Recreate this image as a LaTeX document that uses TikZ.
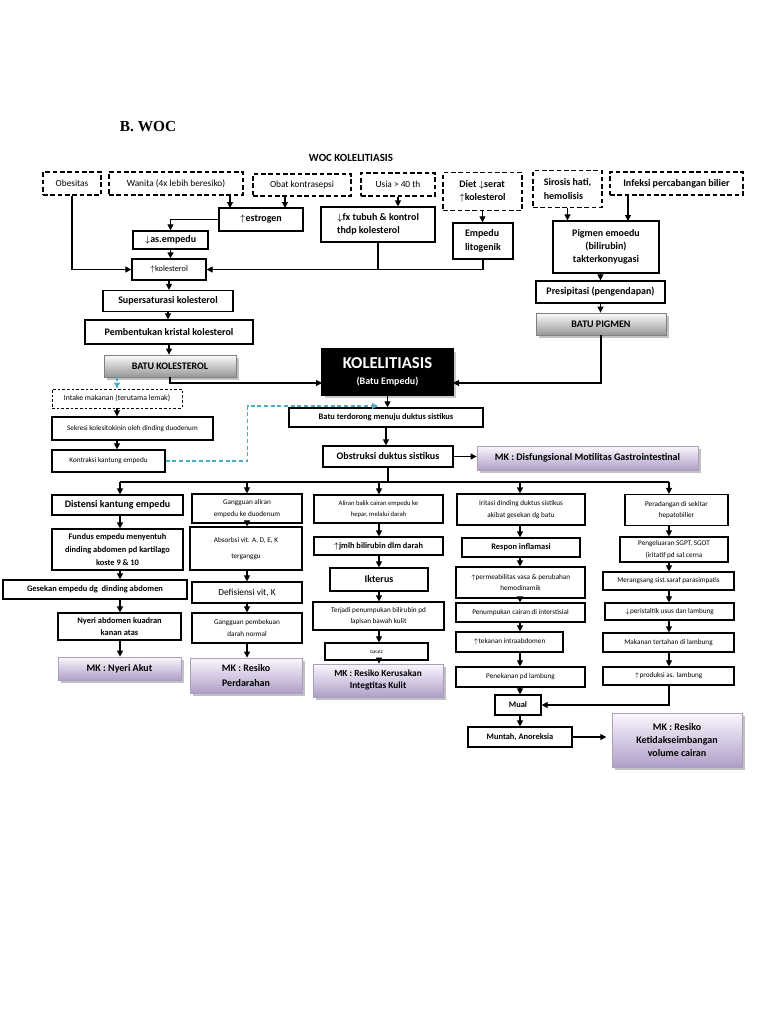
\documentclass[tikz,border=0pt]{standalone}
\usepackage{fontspec}
\setmainfont{Carlito}
\newfontfamily\judulfont{Liberation Serif}
\usetikzlibrary{arrows.meta,shadows}

\newdimen\px \px=0.75pt
\definecolor{mkTop}{RGB}{250,247,253}
\definecolor{mkBot}{RGB}{176,158,200}
\definecolor{mkLine}{RGB}{170,160,190}
\definecolor{batuTop}{RGB}{252,252,252}
\definecolor{batuBot}{RGB}{150,150,150}
\definecolor{biru}{RGB}{75,172,198}

\tikzset{
  sz/.style 2 args={minimum width=#1\px, minimum height=#2\px},
  box/.style={draw, line width=0.9pt, fill=white, inner sep=1pt, align=center},
  dbox/.style={draw, line width=1pt, dash pattern=on 3.5pt off 2pt, fill=white, inner sep=1pt, align=center},
  tipis/.style={draw, line width=0.7pt, dash pattern=on 2pt off 1.5pt, fill=white, inner sep=1pt, align=center},
  mk/.style={draw=mkLine, line width=0.6pt, top color=mkTop, bottom color=mkBot, inner sep=1pt, align=center,
    drop shadow={shadow xshift=2pt, shadow yshift=-2pt, fill=black!40, opacity=0.6}},
  batu/.style={draw=black!50, line width=0.6pt, top color=batuTop, bottom color=batuBot, inner sep=1pt, align=center,
    drop shadow={shadow xshift=2pt, shadow yshift=-2pt, fill=black!40, opacity=0.6}},
  kolbox/.style={draw=black, fill=black, text=white, inner sep=1pt, align=center,
    drop shadow={shadow xshift=2pt, shadow yshift=-2pt, fill=black!35, opacity=0.6}},
  fbig/.style={font=\fontsize{7.5}{10}\selectfont\bfseries},
  fmed/.style={font=\fontsize{6.3}{9.5}\selectfont\bfseries},
  ftop/.style={font=\fontsize{7}{10}\selectfont},
  fsm/.style={font=\fontsize{5.4}{8.5}\selectfont},
  garisbiru/.style={draw=biru, line width=0.8pt, dash pattern=on 3pt off 2pt},
}

\begin{document}
\begin{tikzpicture}[x=0.75pt, y=-0.75pt, line width=0.8pt, >={Triangle[length=4.5pt,width=4.5pt]}]
	\fill[white] (0,0) rectangle (768,1024);
	\useasboundingbox (0,0) rectangle (768,1024);

	% judul
	\node[font=\judulfont\fontsize{11.5}{12}\selectfont\bfseries] (judul) at (148,127) {B. WOC};
	\node[font=\fontsize{8.2}{10}\selectfont\bfseries] (woc) at (351,158) {WOC KOLELITIASIS};

	% faktor risiko
	\node[dbox, ftop, sz={58}{23}] (obes) at (72,183.5) {Obesitas};
	\node[dbox, ftop, sz={134}{23}] (wanita) at (176,183.5) {Wanita (4x lebih beresiko)};
	\node[dbox, ftop, sz={98}{22}] (obat) at (302,185) {Obat kontrasepsi};
	\node[dbox, ftop, sz={74}{23}] (usia) at (398,184.5) {Usia > 40 th};
	\node[dbox, fbig, sz={79}{38}, align=left] (diet) at (482.5,191.5) {Diet $\downarrow$serat\\$\uparrow$kolesterol};
	\node[dbox, fbig, sz={69}{37}, align=left] (sirosis) at (567.5,189) {Sirosis hati,\\hemolisis};
	\node[dbox, fbig, sz={133}{23}] (infeksi) at (676.5,183.5) {Infeksi percabangan bilier};

	% jalur kolesterol
	\node[box, fbig, sz={84}{23}] (estrogen) at (261,219.5) {$\uparrow$estrogen};
	\node[box, fbig, sz={114}{35}, align=left] (fx) at (378,224.5) {$\downarrow$fx tubuh \& kontrol\\thdp kolesterol};
	\node[box, fbig, sz={60}{36}, align=left] (litogenik) at (483,241) {Empedu\\litogenik};
	\node[box, fbig, sz={75}{18}] (asempedu) at (170.5,240) {$\downarrow$as.empedu};
	\node[box, font=\fontsize{6.2}{8}\selectfont, sz={74}{21}] (kol) at (169,269.5) {$\uparrow$kolesterol};
	\node[box, fbig, sz={130}{21}] (super) at (168,301) {Supersaturasi kolesterol};
	\node[box, fbig, sz={168}{24}] (kristal) at (169,332) {Pembentukan kristal kolesterol};
	\node[batu, fbig, sz={132}{22}] (batukol) at (170,366) {BATU KOLESTEROL};

	% jalur pigmen
	\node[box, fbig, sz={106}{52}] (pigmen) at (606,247) {Pigmen emoedu\\(bilirubin)\\takterkonyugasi};
	\node[box, fbig, sz={129}{22}] (presip) at (600.5,292) {Presipitasi (pengendapan)};
	\node[batu, fbig, sz={130}{22}] (batupig) at (601,324) {BATU PIGMEN};

	% kolelitiasis
	\node[kolbox, sz={131}{46}] (kolel) at (387.5,372) {{\fontsize{12.5}{14}\selectfont\bfseries KOLELITIASIS}\\{\fontsize{7.5}{9}\selectfont\bfseries (Batu Empedu)}};
	\node[tipis, font=\fontsize{5.8}{8}\selectfont, sz={130}{19}] (intake) at (117,398.5) {Intake makanan (terutama lemak)};
	\node[box, fsm, sz={161}{23}] (sekresi) at (132.5,428.5) {Sekresi kolesitokinin oleh dinding duodenum};
	\node[box, fsm, sz={113}{22}] (kontraksi) at (108.5,461) {Kontraksi kantung empedu};
	\node[box, fmed, sz={194}{19}] (terdorong) at (386,417.5) {Batu terdorong menuju duktus sistikus};
	\node[box, fbig, sz={130}{21}] (obstruksi) at (388,456.5) {Obstruksi duktus sistikus};
	\node[mk, fbig, sz={221}{24}] (mkdis) at (587.5,458) {MK : Disfungsional Motilitas Gastrointestinal};

	% kolom 1
	\node[box, fbig, sz={131}{20}] (distensi) at (117.5,505) {Distensi kantung empedu};
	\node[box, fmed, sz={131}{41}] (fundus) at (117.5,549.5) {Fundus empedu menyentuh\\dinding abdomen pd kartilago\\koste 9 \& 10};
	\node[box, fmed, sz={184}{19}] (gesekan) at (95,589.5) {Gesekan empedu dg~ dinding abdomen};
	\node[box, fmed, sz={123}{27}, font=\fontsize{6.3}{8.5}\selectfont\bfseries] (nyeri) at (119.5,626.5) {Nyeri abdomen kuadran\\kanan atas};
	\node[mk, fbig, sz={123}{23}] (mknyeri) at (119.5,668.5) {MK : Nyeri Akut};

	% kolom 2
	\node[box, fsm, sz={110}{29}] (galiran) at (247,508.5) {Gangguan aliran\\empedu ke duodenum};
	\node[box, font=\fontsize{5.4}{12}\selectfont, sz={112}{43}] (absorbsi) at (246,548.5) {Absorbsi vit. A, D, E, K\\terganggu};
	\node[box, font=\fontsize{7}{9}\selectfont, sz={110}{21}] (defisiensi) at (247,592.5) {Defisiensi vit, K};
	\node[box, fsm, sz={110}{30}] (pembekuan) at (247,628) {Gangguan pembekuan\\darah normal};
	\node[mk, font=\fontsize{7.5}{11}\selectfont\bfseries, sz={112}{35}] (mkdarah) at (246,675.5) {MK : Resiko\\Perdarahan};

	% kolom 3
	\node[box, font=\fontsize{5}{8}\selectfont, sz={129}{28}] (aliran) at (378.5,509) {Aliran balik cairan empedu ke\\hepar, melalui darah};
	\node[box, fmed, sz={129}{18}] (jmlh) at (378.5,546) {$\uparrow$jmlh bilirubin dlm darah};
	\node[box, fbig, sz={98}{23}] (ikterus) at (379,579.5) {Ikterus};
	\node[box, fsm, sz={131}{28}] (terjadi) at (378.5,616) {Terjadi penumpukan bilirubin pd\\lapisan bawah kulit};
	\node[box, font=\fontsize{3.6}{5}\selectfont, sz={103}{17}] (gatal) at (376.5,651.5) {Gatal2};
	\node[mk, font=\fontsize{7}{9}\selectfont\bfseries, sz={130}{33}] (mkkulit) at (378,680.5) {MK : Resiko Kerusakan\\Integtitas Kulit};

	% kolom 4
	\node[box, fsm, sz={128}{31}] (iritasi) at (521,509.5) {Iritasi dinding duktus sistikus\\akibat gesekan dg batu};
	\node[box, fmed, sz={118}{19}] (respon) at (521,547.5) {Respon inflamasi};
	\node[box, fsm, sz={129}{31}] (permeab) at (520.5,582.5) {$\uparrow$permeabilitas vasa \& perubahan\\hemodinamik};
	\node[box, fsm, sz={129}{19}] (penumpukan) at (520.5,612.5) {Penumpukan cairan di interstisial};
	\node[box, fsm, sz={107}{20}] (tekanan) at (509.5,642) {$\uparrow$tekanan intraabdomen};
	\node[box, fsm, sz={129}{20}] (penekanan) at (520.5,677) {Penekanan pd lambung};
	\node[box, fmed, sz={46}{20}] (mual) at (518,705) {Mual};
	\node[box, fmed, sz={104}{20}] (muntah) at (520,737) {Muntah, Anoreksia};

	% kolom 5
	\node[box, fsm, sz={103}{31}] (radang) at (676.5,510) {Peradangan di sekitar\\hepatobilier};
	\node[box, fsm, sz={108}{25}] (sgpt) at (674,549.5) {Pengeluaran SGPT, SGOT\\(iritatif pd sal.cerna};
	\node[box, fsm, sz={131}{18}] (saraf) at (668.5,581) {Merangsang sist.saraf parasimpatis};
	\node[box, fsm, sz={129}{17}] (peristaltik) at (669.5,611.5) {$\downarrow$peristaltik usus dan lambung};
	\node[box, fsm, sz={131}{19}] (makanan) at (668.5,642.5) {Makanan tertahan di lambung};
	\node[box, fsm, sz={131}{18}] (produksi) at (668.5,676) {$\uparrow$produksi as. lambung};
	\node[mk, font=\fontsize{7.5}{10}\selectfont\bfseries, sz={130}{54}] (mkcairan) at (677,740) {MK : Resiko\\Ketidakseimbangan\\volume cairan};

	% titik bantu
	\coordinate (e1) at (230,208);
	\coordinate (e2) at (285,208);
	\coordinate (p2) at (628,221);
	\coordinate (k1) at (322,383);
	\coordinate (k2) at (453,383);
	\coordinate (cy) at (378,406);
	\coordinate (br) at (388,482);
	\coordinate (c1) at (120,482);
	\coordinate (c2) at (247,482);
	\coordinate (c3) at (379,482);
	\coordinate (c4) at (520,482);
	\coordinate (c5) at (669,482);

	% panah atas
	\draw[->] (wanita.south -| e1) -- (e1);
	\draw[->] (obat.south -| e2) -- (e2);
	\draw[->] (estrogen.west) -| (asempedu.north);
	\draw[->] (asempedu.south) -- (asempedu.south |- kol.north);
	\draw[->] (obes.south) |- (kol.west);
	\draw[->] (usia.south) -- (usia.south |- fx.north);
	\draw[->] (diet.south) -- (diet.south |- litogenik.north);
	\draw[->] (litogenik.south) |- (kol.east);
	\draw (fx.south) -- (fx.south |- kol.east);
	\draw[->] (kol.south) -- (kol.south |- super.north);
	\draw[->] (super.south) -- (super.south |- kristal.north);
	\draw[->] (kristal.south) -- (kristal.south |- batukol.north);
	\draw[->] (sirosis.south) -- (sirosis.south |- pigmen.north);
	\draw[->] (infeksi.south -| p2) -- (p2);
	\draw[->] (pigmen.south -| presip.north) -- (presip.north);
	\draw[->] (presip.south) -- (presip.south |- batupig.north);
	\draw[->] (batukol.south) |- (k1);
	\draw[->] (batupig.south) |- (k2);

	% jalur kolesistokinin
	\draw[garisbiru, ->, biru] (intake.north |- batukol.south) -- (intake.north);
	\draw[->] (intake.south) -- (intake.south |- sekresi.north);
	\draw[->] (sekresi.south -| intake.south) -- (intake.south |- kontraksi.north);
	\draw[garisbiru, ->, biru] (kontraksi.east) -- ++(82,0) |- (cy);

	% tengah
	\draw[->] (kolel.south) -- (kolel.south |- terdorong.north);
	\draw[->] (terdorong.south) -- (terdorong.south |- obstruksi.north);
	\draw[->] (obstruksi.east) -- (obstruksi.east -| mkdis.west);
	\draw (obstruksi.south) -- (br);
	\draw (c1) -- (c5);
	\draw[->] (c1) -- (c1 |- distensi.north);
	\draw[->] (c2) -- (c2 |- galiran.north);
	\draw[->] (c3) -- (c3 |- aliran.north);
	\draw[->] (c4) -- (c4 |- iritasi.north);
	\draw[->] (c5) -- (c5 |- radang.north);

	% kolom 1
	\draw[->] (distensi.south -| c1) -- (fundus.north -| c1);
	\draw[->] (fundus.south -| c1) -- (gesekan.north -| c1);
	\draw[->] (gesekan.south -| c1) -- (nyeri.north -| c1);
	\draw[->] (nyeri.south -| c1) -- (mknyeri.north -| c1);

	% kolom 2
	\draw[->] (galiran.south -| c2) -- (absorbsi.north -| c2);
	\draw[->] (absorbsi.south -| c2) -- (defisiensi.north -| c2);
	\draw[->] (defisiensi.south -| c2) -- (pembekuan.north -| c2);
	\draw[->] (pembekuan.south -| c2) -- (mkdarah.north -| c2);

	% kolom 3
	\draw[->] (aliran.south -| c3) -- (jmlh.north -| c3);
	\draw[->] (jmlh.south -| c3) -- (ikterus.north -| c3);
	\draw[->] (ikterus.south -| c3) -- (terjadi.north -| c3);
	\draw[->] (terjadi.south -| c3) -- (gatal.north -| c3);
	\draw[->] (gatal.south -| c3) -- (mkkulit.north -| c3);

	% kolom 4
	\draw[->] (iritasi.south -| c4) -- (respon.north -| c4);
	\draw[->] (respon.south -| c4) -- (permeab.north -| c4);
	\draw[->] (permeab.south -| c4) -- (penumpukan.north -| c4);
	\draw[->] (penumpukan.south -| c4) -- (tekanan.north -| c4);
	\draw[->] (tekanan.south -| c4) -- (penekanan.north -| c4);
	\draw[->] (penekanan.south -| c4) -- (mual.north -| c4);
	\draw[->] (mual.south -| c4) -- (muntah.north -| c4);
	\draw[->, shorten >=4pt] (muntah.east) -- (muntah.east -| mkcairan.west);

	% kolom 5
	\draw[->] (radang.south -| c5) -- (sgpt.north -| c5);
	\draw[->] (sgpt.south -| c5) -- (saraf.north -| c5);
	\draw[->] (saraf.south -| c5) -- (peristaltik.north -| c5);
	\draw[->] (peristaltik.south -| c5) -- (makanan.north -| c5);
	\draw[->] (makanan.south -| c5) -- (produksi.north -| c5);
	\draw[->] (produksi.south -| c5) |- (mual.east);
\end{tikzpicture}
\end{document}
